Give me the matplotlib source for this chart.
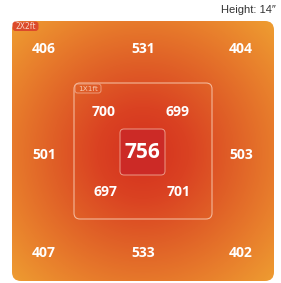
import numpy as np
import matplotlib
matplotlib.use("Agg")
import matplotlib.pyplot as plt
from matplotlib.patches import FancyBboxPatch
from matplotlib.colors import LinearSegmentedColormap

# ---- data ----
title_text = "Height: 14\u2033"
outer_label = "2X2ft"
inner_label = "1X1ft"
outer_values = [406, 531, 404, 501, 503, 407, 533, 402]
inner_values = [700, 699, 697, 701]
center_value = 756

# ---- layout (pixel space) ----
W, H = 281, 283
fig = plt.figure(figsize=(W / 100, H / 100), dpi=100)
ax = fig.add_axes([0, 0, 1, 1])
ax.set_xlim(0, W)
ax.set_ylim(H, 0)
ax.axis("off")

ox0, oy0, ox1, oy1 = 12, 21, 274, 281
cx, cy = (ox0 + ox1) / 2, (oy0 + oy1) / 2 + 2

cmap = LinearSegmentedColormap.from_list(
    "heat", ["#d4301e", "#da4222", "#e06027", "#e87e2c", "#ee9c31"])
yy, xx = np.mgrid[oy0:oy1:300j, ox0:ox1:300j]
r = np.sqrt(((xx - cx) / 131) ** 2 + ((yy - cy) / 131) ** 2)
r = np.clip(r / 1.4, 0, 1)
im = ax.imshow(r, cmap=cmap, extent=(ox0, ox1, oy1, oy0), vmin=0, vmax=1,
               interpolation="bilinear", zorder=1)
outer = FancyBboxPatch((ox0, oy0), ox1 - ox0, oy1 - oy0,
                       boxstyle="round,pad=0,rounding_size=9",
                       facecolor="none", edgecolor="none")
ax.add_patch(outer)
im.set_clip_path(outer)

# outer label tag
tag = FancyBboxPatch((12.5, 21.5), 26, 9.5, boxstyle="round,pad=0,rounding_size=3",
                     facecolor="#dc4a2a", edgecolor="none", zorder=3)
ax.add_patch(tag)
ax.text(25.5, 26.5, outer_label, color="#f7d6c4", fontsize=5.5, ha="center",
        va="center", family="DejaVu Sans", zorder=4)

# inner box
ix0, iy0, ix1, iy1 = 74, 83, 212, 219
inner = FancyBboxPatch((ix0, iy0), ix1 - ix0, iy1 - iy0,
                       boxstyle="round,pad=0,rounding_size=6",
                       facecolor="none", edgecolor="#f4b89a", linewidth=0.8,
                       zorder=3)
ax.add_patch(inner)
itag = FancyBboxPatch((ix0 + 1, iy0 + 1), 26, 9,
                      boxstyle="round,pad=0,rounding_size=2.5",
                      facecolor="none", edgecolor="#f0a88a", linewidth=0.6,
                      zorder=3)
ax.add_patch(itag)
ax.text(ix0 + 14, iy0 + 5.6, inner_label, color="#f6c8b0", fontsize=5.3,
        ha="center", va="center", zorder=4)

# center box
cb = FancyBboxPatch((120, 129), 45, 46, boxstyle="round,pad=0,rounding_size=4",
                    facecolor="#cc2a26", edgecolor="#ec9a88", linewidth=0.7,
                    zorder=3)
ax.add_patch(cb)

font = "Open Sans"
outer_pos = [(44, 49), (143, 49), (241, 49), (44, 155), (241, 155),
             (44, 253), (143, 253), (241, 253)]
for v, (x, y) in zip(outer_values, outer_pos):
    ax.text(x, y, str(v), color="white", fontsize=10, fontweight="bold",
            family=font, ha="center", va="center", zorder=5)

inner_pos = [(104, 112), (178, 112), (105, 192), (179, 192)]
for v, (x, y) in zip(inner_values, inner_pos):
    ax.text(x, y, str(v), color="white", fontsize=10, fontweight="bold",
            family=font, ha="center", va="center", zorder=5)

ax.text(142.5, 153, str(center_value), color="white", fontsize=15,
        fontweight="bold", family=font, ha="center", va="center", zorder=5)

ax.text(276, 10, title_text, color="#333333", fontsize=8, family="Liberation Sans",
        ha="right", va="center")

fig.savefig("out.png", dpi=100)
